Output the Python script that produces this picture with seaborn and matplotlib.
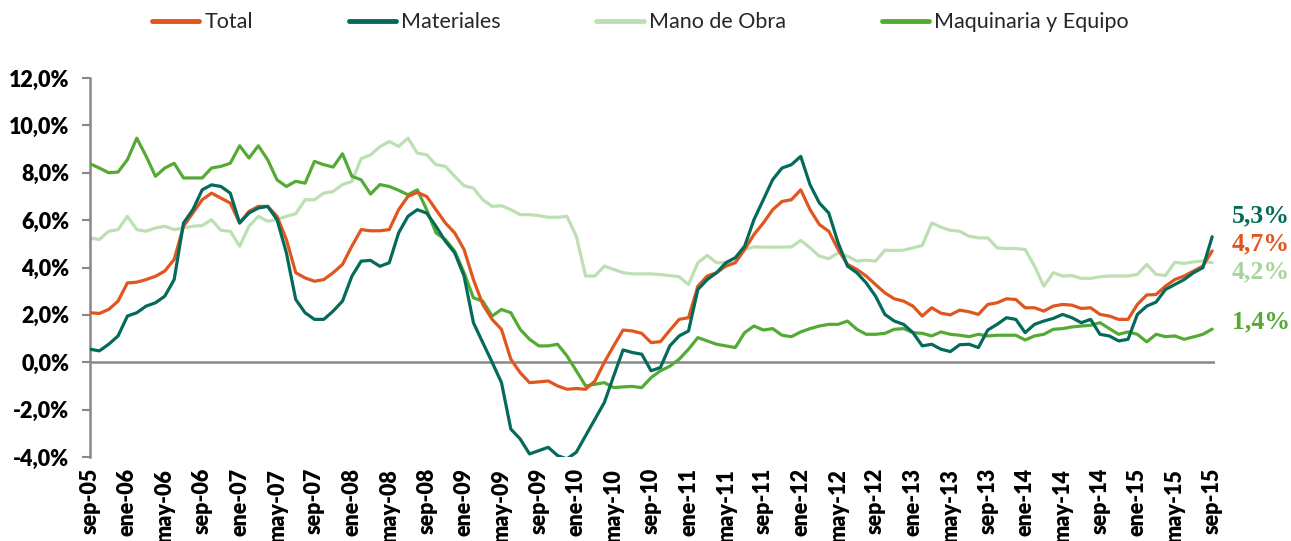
import numpy as np
import pandas as pd
import matplotlib
matplotlib.use("Agg")
import matplotlib.pyplot as plt
import seaborn as sns

# monthly series, sep-05 .. sep-15 (121 months), % y/y
total = [2.09, 2.06, 2.23, 2.58, 3.35, 3.38, 3.49, 3.63, 3.85, 4.34,
         5.74, 6.3, 6.86, 7.14, 6.93, 6.72, 5.88, 6.37, 6.58, 6.58,
         6.16, 5.18, 3.78, 3.56, 3.42, 3.49, 3.78, 4.13, 4.9, 5.6,
         5.55, 5.55, 5.6, 6.44, 7.0, 7.17, 7.0, 6.44, 5.88, 5.46,
         4.76, 3.49, 2.44, 1.81, 1.39, 0.13, -0.44, -0.86, -0.83, -0.79,
         -1.0, -1.14, -1.11, -1.14, -0.79, 0.0, 0.69, 1.36, 1.32, 1.22,
         0.83, 0.87, 1.35, 1.81, 1.88, 3.21, 3.64, 3.78, 4.06, 4.2,
         4.76, 5.39, 5.88, 6.44, 6.79, 6.86, 7.28, 6.44, 5.81, 5.53,
         4.76, 4.13, 3.92, 3.64, 3.28, 2.93, 2.68, 2.58, 2.37, 1.95,
         2.3, 2.07, 2.0, 2.2, 2.13, 2.02, 2.44, 2.51, 2.68, 2.65,
         2.3, 2.3, 2.16, 2.37, 2.44, 2.41, 2.27, 2.3, 2.02, 1.95,
         1.81, 1.81, 2.44, 2.84, 2.86, 3.21, 3.49, 3.64, 3.85, 4.06,
         4.7]

materiales = [0.55, 0.48, 0.76, 1.11, 1.95, 2.09, 2.37, 2.51, 2.79, 3.49,
              5.88, 6.44, 7.28, 7.49, 7.42, 7.14, 5.88, 6.3, 6.51, 6.58,
              6.02, 4.62, 2.65, 2.09, 1.81, 1.81, 2.16, 2.58, 3.63, 4.27,
              4.3, 4.05, 4.2, 5.46, 6.16, 6.44, 6.3, 5.74, 5.11, 4.62,
              3.64, 1.67, 0.83, 0.0, -0.86, -2.82, -3.24, -3.87, -3.73, -3.59,
              -3.94, -4.08, -3.8, -3.1, -2.4, -1.7, -0.58, 0.52, 0.41, 0.34,
              -0.36, -0.22, 0.69, 1.11, 1.32, 3.07, 3.49, 3.78, 4.2, 4.41,
              4.9, 6.02, 6.86, 7.71, 8.2, 8.34, 8.69, 7.49, 6.72, 6.3,
              5.04, 4.06, 3.78, 3.35, 2.79, 2.02, 1.74, 1.6, 1.25, 0.69,
              0.76, 0.55, 0.45, 0.74, 0.76, 0.62, 1.36, 1.6, 1.88, 1.81,
              1.25, 1.6, 1.74, 1.85, 2.02, 1.88, 1.67, 1.81, 1.18, 1.11,
              0.9, 0.97, 2.02, 2.37, 2.54, 3.07, 3.28, 3.49, 3.78, 3.99,
              5.3]

mano_obra = [5.25, 5.18, 5.53, 5.6, 6.16, 5.6, 5.53, 5.67, 5.74, 5.6,
             5.67, 5.74, 5.77, 6.02, 5.57, 5.53, 4.9, 5.74, 6.16, 5.95,
             6.02, 6.16, 6.27, 6.86, 6.86, 7.14, 7.21, 7.5, 7.63, 8.6,
             8.75, 9.1, 9.32, 9.11, 9.46, 8.83, 8.76, 8.34, 8.27, 7.85,
             7.45, 7.35, 6.86, 6.58, 6.61, 6.44, 6.23, 6.23, 6.19, 6.12,
             6.12, 6.16, 5.32, 3.64, 3.64, 4.06, 3.92, 3.78, 3.73, 3.73,
             3.73, 3.7, 3.66, 3.61, 3.28, 4.2, 4.51, 4.2, 4.2, 4.41,
             4.76, 4.87, 4.86, 4.86, 4.86, 4.87, 5.14, 4.83, 4.48, 4.37,
             4.62, 4.48, 4.27, 4.31, 4.27, 4.73, 4.72, 4.73, 4.83, 4.93,
             5.88, 5.7, 5.57, 5.53, 5.32, 5.25, 5.25, 4.83, 4.8, 4.8,
             4.76, 4.06, 3.21, 3.78, 3.64, 3.66, 3.54, 3.54, 3.61, 3.64,
             3.64, 3.64, 3.71, 4.13, 3.71, 3.66, 4.22, 4.17, 4.24, 4.27,
             4.2]

maquinaria = [8.38, 8.2, 8.0, 8.03, 8.55, 9.46, 8.7, 7.85, 8.2, 8.4,
              7.78, 7.78, 7.78, 8.2, 8.27, 8.4, 9.14, 8.62, 9.14, 8.55,
              7.7, 7.42, 7.64, 7.56, 8.48, 8.34, 8.24, 8.8, 7.85, 7.7,
              7.1, 7.5, 7.42, 7.26, 7.07, 7.28, 6.44, 5.46, 5.18, 4.69,
              3.78, 2.72, 2.58, 1.95, 2.23, 2.09, 1.39, 0.97, 0.69, 0.69,
              0.76, 0.27, -0.36, -1.0, -0.93, -0.86, -1.07, -1.04, -1.02, -1.07,
              -0.65, -0.36, -0.17, 0.13, 0.55, 1.04, 0.9, 0.76, 0.69, 0.62,
              1.25, 1.53, 1.36, 1.42, 1.14, 1.08, 1.28, 1.42, 1.53, 1.6,
              1.6, 1.74, 1.39, 1.18, 1.18, 1.22, 1.39, 1.42, 1.25, 1.22,
              1.11, 1.28, 1.18, 1.14, 1.08, 1.18, 1.11, 1.14, 1.14, 1.14,
              0.94, 1.11, 1.18, 1.39, 1.42, 1.49, 1.53, 1.56, 1.67, 1.42,
              1.18, 1.28, 1.18, 0.86, 1.18, 1.08, 1.11, 0.97, 1.07, 1.18,
              1.4]

series_names = ["Total", "Materiales", "Mano de Obra", "Maquinaria y Equipo"]
colors = ["#E0561F", "#046A5A", "#BDDFB4", "#55AA36"]
end_labels = ["4,7%", "5,3%", "4,2%", "1,4%"]
end_label_colors = ["#E0561F", "#046A5A", "#A8D39A", "#55AA36"]
end_label_y = [5.0, 6.2, 3.8, 1.7]

months = ["ene", "feb", "mar", "abr", "may", "jun",
          "jul", "ago", "sep", "oct", "nov", "dic"]
n = len(total)
tick_pos = list(range(0, n, 4))
tick_labels = []
for i in tick_pos:
    m = (8 + i) % 12
    yr = 5 + (8 + i) // 12
    tick_labels.append(f"{months[m]}-{yr:02d}")

df = pd.DataFrame({
    "mes": list(range(n)) * 4,
    "valor": total + materiales + mano_obra + maquinaria,
    "serie": sum([[s] * n for s in series_names], []),
})

sns.set_theme(style="white")
plt.rcParams["font.family"] = ["Lato", "DejaVu Sans"]

fig = plt.figure(figsize=(12.91, 5.41), dpi=100)
ax = fig.add_axes([90 / 1291, 84 / 541, 1125 / 1291, 379 / 541])

sns.lineplot(data=df, x="mes", y="valor", hue="serie", hue_order=series_names,
             palette=colors, linewidth=2.3, ax=ax)

# draw order: mano de obra behind, materiales on top
zorders = {"Total": 4, "Materiales": 5, "Mano de Obra": 2, "Maquinaria y Equipo": 3}
for line, name in zip(ax.lines, series_names):
    line.set_zorder(zorders[name])
    line.set_solid_joinstyle("round")
    line.set_solid_capstyle("round")

handles, labels = ax.get_legend_handles_labels()
ax.get_legend().remove()
fig.legend(handles, labels, loc="center", bbox_to_anchor=(0.496, 0.959),
           ncol=4, frameon=False, fontsize=15.5, handlelength=2.2,
           handletextpad=0.23, columnspacing=4.45)
for h in fig.legends[0].legend_handles:
    h.set_linewidth(3.5)

ax.axhline(0, color="#888888", linewidth=1.8, zorder=1)

ax.set_xlim(0, 120.3)
ax.set_ylim(-4, 12)
ax.set_yticks(np.arange(-4, 13, 2))
ax.set_yticklabels([f"{v:.1f}%".replace(".", ",") for v in np.arange(-4, 13, 2)],
                   fontsize=15.5, fontweight="heavy")
ax.set_xticks(tick_pos)
ax.set_xticklabels(tick_labels, rotation=90, fontsize=15.5, fontweight="heavy")
ax.set_xlabel("")
ax.set_ylabel("")

for s in ["top", "right", "bottom"]:
    ax.spines[s].set_visible(False)
ax.spines["left"].set_color("#888888")
ax.spines["left"].set_linewidth(1.8)
ax.tick_params(axis="y", length=6, width=1.5, color="#888888", pad=9,
               left=True, labelcolor="black")
ax.tick_params(axis="x", length=0, pad=8, labelcolor="black")

for lab, ly, c in zip(end_labels, end_label_y, end_label_colors):
    ax.text(122.1, ly, lab, color=c, fontsize=18.5, fontweight="bold",
            family=["Liberation Serif", "DejaVu Serif"], va="center", ha="left",
            clip_on=False)

fig.savefig("out.png", dpi=100)
